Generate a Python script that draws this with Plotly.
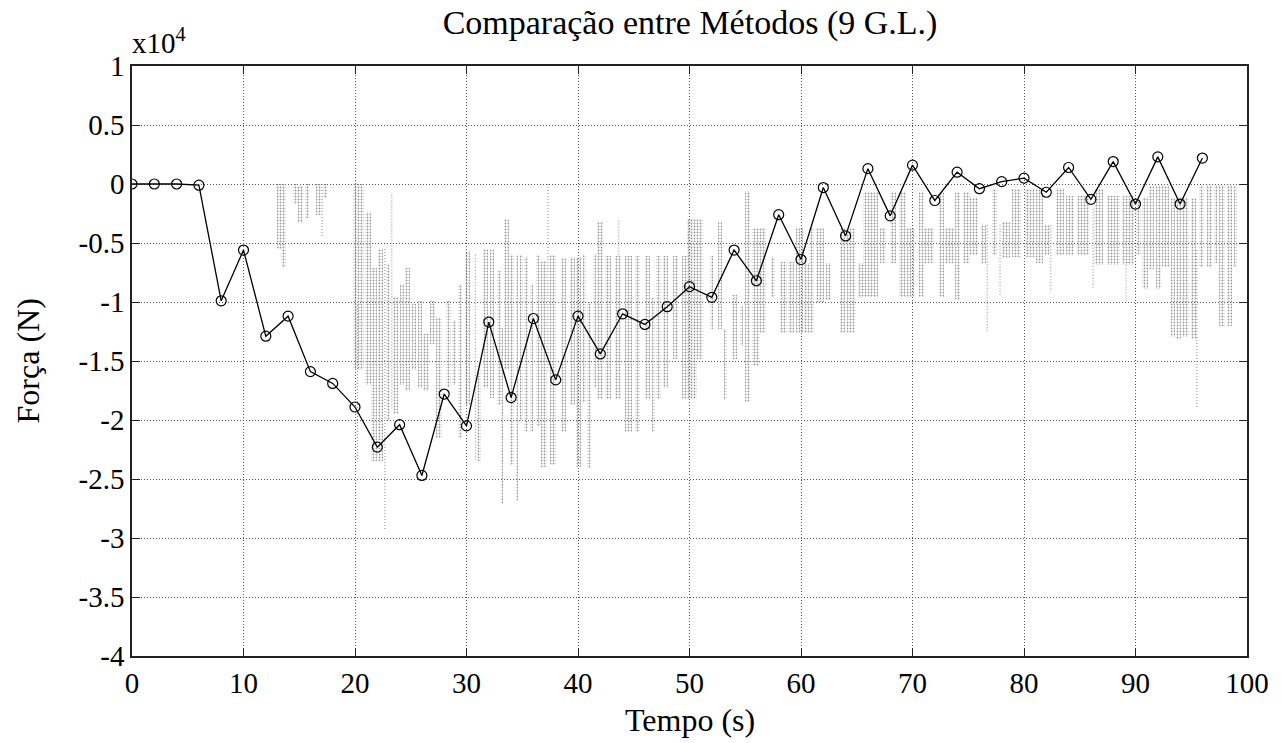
import plotly.graph_objects as go

# ---------------- data (force in units of 1e4 N) ----------------
time_s = list(range(0, 98, 2))
force_method = [0.0, 0.0, 0.0, -0.01, -0.99, -0.56, -1.29, -1.12, -1.59, -1.69,
                -1.89, -2.23, -2.04, -2.47, -1.78, -2.05, -1.17, -1.81, -1.14, -1.66,
                -1.12, -1.44, -1.10, -1.19, -1.04, -0.87, -0.96, -0.56, -0.82, -0.26,
                -0.64, -0.03, -0.44, 0.13, -0.27, 0.16, -0.14, 0.10, -0.04, 0.02,
                0.05, -0.07, 0.14, -0.13, 0.19, -0.17, 0.23, -0.17, 0.22]

# dense oscillating reference signal, read as bands of strokes (start, end, top, bottom)
band_t0 = [13.0, 13.4, 14.4, 14.9, 15.5, 16.5, 17.15, 17.95,
           19.8, 20.9, 21.4, 22.1, 22.8, 23.4, 24.0, 24.5, 25.1, 25.65, 26.1, 26.7,
           27.3, 28.2, 28.7, 29.25, 29.85, 30.9, 31.5, 32.1, 32.7, 33.1, 33.4, 33.9,
           34.4, 34.8, 35.2, 35.7, 36.2, 36.7, 37.45,
           38.5, 39.25, 39.85, 40.45, 40.8, 41.3, 41.7, 42.4, 43.3, 44.2, 45.1, 46.0,
           46.6, 47.0, 47.65, 48.55, 49.3, 49.8, 50.65, 51.8, 52.6, 53.05, 53.8, 54.55,
           55.0, 55.6,
           56.2, 57.35, 58.1, 58.8, 59.55, 60.3, 60.75, 61.3, 62.2, 63.5, 64.1, 65.15,
           65.6, 67.05, 67.95, 68.8, 69.55, 70.6, 71.0, 72.35, 72.95, 73.8,
           74.5, 75.2, 76.1, 77.1, 78.0, 78.9, 80.05, 81.1, 81.8, 82.85, 83.75, 84.75,
           86.3, 87.4, 88.75, 90.05, 90.6, 91.2, 91.8, 92.4, 93.2, 93.6, 94.2, 94.95,
           95.7, 96.4, 97.0, 97.5, 98.2, 98.8]
band_t1 = [13.35, 13.8, 14.85, 15.3, 15.85, 16.95, 17.5, 18.15,
           20.8, 21.4, 22.0, 22.5, 23.1, 23.9, 24.4, 24.9, 25.5, 26.0, 26.6, 27.2,
           27.8, 28.6, 29.1, 29.6, 30.35, 31.3, 31.9, 32.5, 33.1, 33.3, 33.8, 34.25,
           34.6, 35.1, 35.5, 36.0, 36.6, 37.2, 38.05,
           38.95, 39.7, 40.3, 40.75, 41.2, 41.65, 42.25, 43.0, 43.9, 44.8, 45.55, 46.45,
           46.9, 47.4, 48.1, 49.0, 49.75, 50.65, 51.25, 52.15, 52.9, 53.4, 54.25, 54.8,
           55.45, 56.2,
           56.9, 57.65, 58.7, 59.4, 60.15, 60.75, 61.2, 62.05, 62.65, 63.95, 64.85, 65.6,
           66.9, 67.65, 68.55, 69.4, 70.15, 71.0, 71.9, 72.8, 73.7, 74.25,
           75.2, 75.9, 76.6, 77.55, 78.75, 79.75, 80.95, 81.7, 82.3, 83.6, 84.5, 85.8,
           87.1, 88.6, 89.9, 90.5, 91.1, 91.7, 92.3, 93.0, 93.5, 94.05, 94.8, 95.4,
           96.15, 96.9, 97.3, 98.05, 98.65, 99.1]
band_top = [0.0, 0.0, 0.0, -0.02, 0.0, 0.0, 0.0, 0.0,
            0.0, -0.24, -0.71, -0.55, -0.68, -0.96, -0.85, -0.71, -1.02, -0.99, -1.27, -0.99,
            -1.13, -0.99, -1.15, -0.85, -0.57, -1.58, -0.55, -0.55, -0.74, -1.22, -0.30, -0.60,
            -0.60, -0.60, -0.62, -0.85, -0.60, -0.65, -0.60,
            -0.63, -0.62, -0.62, -0.59, -1.00, -0.59, -0.31, -0.61, -0.61, -0.61, -0.61, -0.61,
            -0.97, -0.61, -0.61, -0.61, -0.61, -0.30, -0.30, -0.61, -0.31, -1.23, -0.94, -1.03,
            -0.06, -0.37,
            -0.37, -0.62, -0.66, -0.66, -0.37, -0.67, -0.37, -0.37, -0.67, -0.37, -0.37, -0.67,
            -0.07, -0.37, -0.07, -0.07, -0.37, -0.07, -0.37, -0.07, -0.37, -0.07,
            -0.07, -0.11, -0.35, -0.04, -0.32, -0.04, -0.04, -0.04, -0.35, -0.03, -0.10, -0.10,
            -0.04, -0.10, -0.10, -0.15, -0.11, -0.02, -0.01, -0.01, -0.12, -0.11, -0.11, -0.12,
            -0.01, -0.01, -0.01, -0.01, -0.01, -0.01]
band_bot = [-0.55, -0.71, -0.17, -0.33, -0.29, -0.26, -0.12, -0.06,
            -1.58, -1.70, -2.35, -2.35, -2.01, -1.95, -1.70, -1.75, -1.58, -1.73, -1.75, -1.36,
            -2.15, -1.73, -1.70, -2.15, -1.87, -2.35, -1.73, -1.81, -1.87, -2.71, -1.58, -2.38,
            -2.69, -2.01, -2.09, -2.09, -2.06, -2.40, -2.38,
            -2.10, -1.87, -2.40, -1.85, -2.41, -1.73, -1.82, -1.82, -1.82, -2.10, -2.10, -1.82,
            -2.10, -1.82, -1.73, -1.48, -1.82, -1.82, -1.48, -1.23, -1.23, -1.83, -1.48, -1.37,
            -1.85, -1.54,
            -1.26, -0.96, -1.26, -1.26, -1.26, -1.26, -1.26, -1.00, -0.98, -1.26, -1.26, -0.96,
            -0.96, -0.67, -0.67, -0.96, -0.96, -0.96, -0.67, -0.96, -0.67, -0.98,
            -0.67, -0.60, -0.67, -0.60, -0.63, -0.62, -0.62, -0.67, -0.60, -0.60, -0.60, -0.60,
            -0.69, -0.69, -0.69, -0.60, -0.89, -0.72, -0.89, -0.70, -1.30, -1.31, -1.30, -1.31,
            -0.70, -0.70, -0.67, -1.20, -1.20, -0.70]

# isolated single strokes of the same signal (time, top, bottom)
single_t = [17.05, 20.22, 22.68, 23.3, 30.8, 37.3, 43.65, 76.7, 77.85, 82.4, 86.2, 89.15, 95.5]
single_top = [0.0, -1.0, -0.55, -0.09, -0.60, 0.0, -0.31, -0.35, -0.35, -0.35, -0.21, -0.69, -0.56]
single_bot = [-0.44, -2.35, -2.94, -1.92, -2.35, -1.58, -0.61, -1.25, -0.94, -0.91, -0.88, -1.00, -1.90]

x_ticks = [0, 10, 20, 30, 40, 50, 60, 70, 80, 90, 100]
x_ticktext = ["0", "10", "20", "30", "40", "50", "60", "70", "80", "90", "100"]
y_ticks = [1, 0.5, 0, -0.5, -1, -1.5, -2, -2.5, -3, -3.5, -4]
y_ticktext = ["1", "0.5", "0", "-0.5", "-1", "-1.5", "-2", "-2.5", "-3", "-3.5", "-4"]

# ---------------- figure ----------------
FONT = "Liberation Serif"
GRAY = "#9a9a9a"

centers = [(a + b) / 2 for a, b in zip(band_t0, band_t1)]
widths = [b - a for a, b in zip(band_t0, band_t1)]
heights = [t - b for t, b in zip(band_top, band_bot)]

fig = go.Figure()
fig.add_trace(go.Bar(
    x=centers, y=heights, base=band_bot, width=widths,
    marker=dict(color=GRAY, line=dict(width=0),
                pattern=dict(shape=".", size=3, solidity=0.3, fillmode="replace")),
    showlegend=False, hoverinfo="skip",
))

sx, sy = [], []
for t, a, b in zip(single_t, single_top, single_bot):
    sx += [t, t, None]
    sy += [a, b, None]
fig.add_trace(go.Scatter(
    x=sx, y=sy, mode="lines", connectgaps=False,
    line=dict(color=GRAY, width=1.2, dash="1px,2px"),
    showlegend=False, hoverinfo="skip",
))

fig.add_trace(go.Scatter(
    x=time_s, y=force_method, mode="lines+markers",
    line=dict(color="black", width=1.3),
    marker=dict(symbol="circle-open", size=10, color="black", line=dict(width=1.2)),
    showlegend=False,
))

axis_common = dict(
    showline=True, linecolor="#222", linewidth=1.5, mirror="allticks",
    ticks="inside", ticklen=8, tickcolor="#222", tickwidth=1.2,
    showgrid=True, gridcolor="#555", gridwidth=1, griddash="1px,2px",
    zeroline=False,
    tickfont=dict(family=FONT, size=29, color="black"),
)

fig.update_xaxes(range=[0, 100], tickvals=x_ticks, ticktext=x_ticktext, **axis_common)
fig.update_yaxes(range=[-4, 1], tickvals=y_ticks, ticktext=y_ticktext, **axis_common)

fig.update_layout(
    width=1281, height=743,
    margin=dict(l=132, r=29, t=66, b=87),
    paper_bgcolor="white", plot_bgcolor="white",
    barmode="overlay", bargap=0,
    font=dict(family=FONT, size=29, color="black"),
    title=dict(text="Comparação entre Métodos (9 G.L.)", x=690 / 1281, xanchor="center",
               y=1 - 22 / 743, yanchor="middle", font=dict(family=FONT, size=34)),
    annotations=[
        dict(text="x10<sup>4</sup>", xref="paper", yref="paper", x=0.0, y=1.0,
             xanchor="left", yanchor="bottom", yshift=5, xshift=-2, showarrow=False,
             font=dict(family=FONT, size=29)),
        dict(text="Tempo (s)", xref="paper", yref="paper", x=0.5, y=-(720 - 656) / 590,
             xanchor="center", yanchor="middle", showarrow=False,
             font=dict(family=FONT, size=32)),
        dict(text="Força (N)", xref="paper", yref="paper", x=-(104) / 1120, y=0.5,
             xanchor="center", yanchor="middle", textangle=-90, showarrow=False,
             font=dict(family=FONT, size=32)),
    ],
)

fig.write_html("out.html", config={"displayModeBar": False},
               post_script="document.body.style.margin='0';")
